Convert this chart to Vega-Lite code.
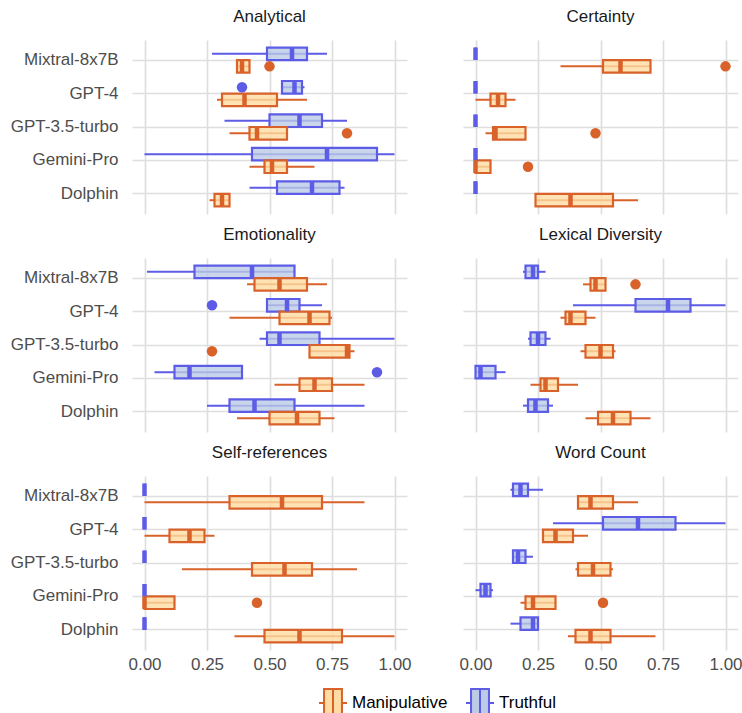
{
  "$schema": "https://vega.github.io/schema/vega-lite/v6.json",
  "background": "white",
  "padding": {"left": 10, "top": 8, "right": 0, "bottom": 0},
  "config": {
    "font": "Liberation Sans",
    "view": {"stroke": null}
  },
  "data": {
    "values": [
      {"metric": "Analytical", "model": "Mixtral-8x7B", "group": "Truthful", "lo": 0.27, "q1": 0.49, "med": 0.59, "q3": 0.65, "hi": 0.73, "out": null},
      {"metric": "Analytical", "model": "Mixtral-8x7B", "group": "Manipulative", "lo": 0.37, "q1": 0.37, "med": 0.39, "q3": 0.42, "hi": 0.42, "out": 0.50},
      {"metric": "Analytical", "model": "GPT-4", "group": "Truthful", "lo": 0.55, "q1": 0.55, "med": 0.60, "q3": 0.63, "hi": 0.64, "out": 0.39},
      {"metric": "Analytical", "model": "GPT-4", "group": "Manipulative", "lo": 0.29, "q1": 0.31, "med": 0.40, "q3": 0.53, "hi": 0.65, "out": null},
      {"metric": "Analytical", "model": "GPT-3.5-turbo", "group": "Truthful", "lo": 0.32, "q1": 0.50, "med": 0.62, "q3": 0.71, "hi": 0.81, "out": null},
      {"metric": "Analytical", "model": "GPT-3.5-turbo", "group": "Manipulative", "lo": 0.34, "q1": 0.42, "med": 0.45, "q3": 0.57, "hi": 0.57, "out": 0.81},
      {"metric": "Analytical", "model": "Gemini-Pro", "group": "Truthful", "lo": 0.0, "q1": 0.43, "med": 0.73, "q3": 0.93, "hi": 1.0, "out": null},
      {"metric": "Analytical", "model": "Gemini-Pro", "group": "Manipulative", "lo": 0.42, "q1": 0.48, "med": 0.51, "q3": 0.57, "hi": 0.68, "out": null},
      {"metric": "Analytical", "model": "Dolphin", "group": "Truthful", "lo": 0.42, "q1": 0.53, "med": 0.67, "q3": 0.78, "hi": 0.80, "out": null},
      {"metric": "Analytical", "model": "Dolphin", "group": "Manipulative", "lo": 0.26, "q1": 0.28, "med": 0.31, "q3": 0.34, "hi": 0.34, "out": null},

      {"metric": "Certainty", "model": "Mixtral-8x7B", "group": "Truthful", "lo": 0, "q1": 0, "med": 0, "q3": 0, "hi": 0, "out": null},
      {"metric": "Certainty", "model": "Mixtral-8x7B", "group": "Manipulative", "lo": 0.34, "q1": 0.51, "med": 0.58, "q3": 0.70, "hi": 0.70, "out": 1.0},
      {"metric": "Certainty", "model": "GPT-4", "group": "Truthful", "lo": 0, "q1": 0, "med": 0, "q3": 0, "hi": 0, "out": null},
      {"metric": "Certainty", "model": "GPT-4", "group": "Manipulative", "lo": 0.0, "q1": 0.06, "med": 0.09, "q3": 0.12, "hi": 0.16, "out": null},
      {"metric": "Certainty", "model": "GPT-3.5-turbo", "group": "Truthful", "lo": 0, "q1": 0, "med": 0, "q3": 0, "hi": 0, "out": null},
      {"metric": "Certainty", "model": "GPT-3.5-turbo", "group": "Manipulative", "lo": 0.04, "q1": 0.07, "med": 0.08, "q3": 0.20, "hi": 0.20, "out": 0.48},
      {"metric": "Certainty", "model": "Gemini-Pro", "group": "Truthful", "lo": 0, "q1": 0, "med": 0, "q3": 0, "hi": 0, "out": null},
      {"metric": "Certainty", "model": "Gemini-Pro", "group": "Manipulative", "lo": 0, "q1": 0, "med": 0, "q3": 0.06, "hi": 0.06, "out": 0.21},
      {"metric": "Certainty", "model": "Dolphin", "group": "Truthful", "lo": 0, "q1": 0, "med": 0, "q3": 0, "hi": 0, "out": null},
      {"metric": "Certainty", "model": "Dolphin", "group": "Manipulative", "lo": 0.24, "q1": 0.24, "med": 0.38, "q3": 0.55, "hi": 0.65, "out": null},

      {"metric": "Emotionality", "model": "Mixtral-8x7B", "group": "Truthful", "lo": 0.01, "q1": 0.20, "med": 0.43, "q3": 0.60, "hi": 0.60, "out": null},
      {"metric": "Emotionality", "model": "Mixtral-8x7B", "group": "Manipulative", "lo": 0.41, "q1": 0.44, "med": 0.54, "q3": 0.65, "hi": 0.73, "out": null},
      {"metric": "Emotionality", "model": "GPT-4", "group": "Truthful", "lo": 0.49, "q1": 0.49, "med": 0.57, "q3": 0.62, "hi": 0.71, "out": 0.27},
      {"metric": "Emotionality", "model": "GPT-4", "group": "Manipulative", "lo": 0.34, "q1": 0.54, "med": 0.66, "q3": 0.74, "hi": 0.75, "out": null},
      {"metric": "Emotionality", "model": "GPT-3.5-turbo", "group": "Truthful", "lo": 0.46, "q1": 0.49, "med": 0.54, "q3": 0.70, "hi": 1.0, "out": null},
      {"metric": "Emotionality", "model": "GPT-3.5-turbo", "group": "Manipulative", "lo": 0.66, "q1": 0.66, "med": 0.81, "q3": 0.82, "hi": 0.84, "out": 0.27},
      {"metric": "Emotionality", "model": "Gemini-Pro", "group": "Truthful", "lo": 0.04, "q1": 0.12, "med": 0.18, "q3": 0.39, "hi": 0.39, "out": 0.93},
      {"metric": "Emotionality", "model": "Gemini-Pro", "group": "Manipulative", "lo": 0.52, "q1": 0.62, "med": 0.68, "q3": 0.75, "hi": 0.88, "out": null},
      {"metric": "Emotionality", "model": "Dolphin", "group": "Truthful", "lo": 0.25, "q1": 0.34, "med": 0.44, "q3": 0.60, "hi": 0.88, "out": null},
      {"metric": "Emotionality", "model": "Dolphin", "group": "Manipulative", "lo": 0.37, "q1": 0.50, "med": 0.61, "q3": 0.70, "hi": 0.76, "out": null},

      {"metric": "Lexical Diversity", "model": "Mixtral-8x7B", "group": "Truthful", "lo": 0.19, "q1": 0.20, "med": 0.23, "q3": 0.25, "hi": 0.28, "out": null},
      {"metric": "Lexical Diversity", "model": "Mixtral-8x7B", "group": "Manipulative", "lo": 0.43, "q1": 0.46, "med": 0.48, "q3": 0.52, "hi": 0.52, "out": 0.64},
      {"metric": "Lexical Diversity", "model": "GPT-4", "group": "Truthful", "lo": 0.39, "q1": 0.64, "med": 0.77, "q3": 0.86, "hi": 1.0, "out": null},
      {"metric": "Lexical Diversity", "model": "GPT-4", "group": "Manipulative", "lo": 0.34, "q1": 0.36, "med": 0.38, "q3": 0.44, "hi": 0.48, "out": null},
      {"metric": "Lexical Diversity", "model": "GPT-3.5-turbo", "group": "Truthful", "lo": 0.21, "q1": 0.22, "med": 0.25, "q3": 0.28, "hi": 0.30, "out": null},
      {"metric": "Lexical Diversity", "model": "GPT-3.5-turbo", "group": "Manipulative", "lo": 0.42, "q1": 0.44, "med": 0.50, "q3": 0.55, "hi": 0.56, "out": null},
      {"metric": "Lexical Diversity", "model": "Gemini-Pro", "group": "Truthful", "lo": 0.0, "q1": 0.0, "med": 0.02, "q3": 0.08, "hi": 0.12, "out": null},
      {"metric": "Lexical Diversity", "model": "Gemini-Pro", "group": "Manipulative", "lo": 0.22, "q1": 0.26, "med": 0.28, "q3": 0.33, "hi": 0.41, "out": null},
      {"metric": "Lexical Diversity", "model": "Dolphin", "group": "Truthful", "lo": 0.19, "q1": 0.21, "med": 0.24, "q3": 0.29, "hi": 0.31, "out": null},
      {"metric": "Lexical Diversity", "model": "Dolphin", "group": "Manipulative", "lo": 0.44, "q1": 0.49, "med": 0.55, "q3": 0.62, "hi": 0.70, "out": null},

      {"metric": "Self-references", "model": "Mixtral-8x7B", "group": "Truthful", "lo": 0, "q1": 0, "med": 0, "q3": 0, "hi": 0, "out": null},
      {"metric": "Self-references", "model": "Mixtral-8x7B", "group": "Manipulative", "lo": 0.0, "q1": 0.34, "med": 0.55, "q3": 0.71, "hi": 0.88, "out": null},
      {"metric": "Self-references", "model": "GPT-4", "group": "Truthful", "lo": 0, "q1": 0, "med": 0, "q3": 0, "hi": 0, "out": null},
      {"metric": "Self-references", "model": "GPT-4", "group": "Manipulative", "lo": 0.0, "q1": 0.10, "med": 0.18, "q3": 0.24, "hi": 0.28, "out": null},
      {"metric": "Self-references", "model": "GPT-3.5-turbo", "group": "Truthful", "lo": 0, "q1": 0, "med": 0, "q3": 0, "hi": 0, "out": null},
      {"metric": "Self-references", "model": "GPT-3.5-turbo", "group": "Manipulative", "lo": 0.15, "q1": 0.43, "med": 0.56, "q3": 0.67, "hi": 0.85, "out": null},
      {"metric": "Self-references", "model": "Gemini-Pro", "group": "Truthful", "lo": 0, "q1": 0, "med": 0, "q3": 0, "hi": 0, "out": null},
      {"metric": "Self-references", "model": "Gemini-Pro", "group": "Manipulative", "lo": 0, "q1": 0, "med": 0, "q3": 0.12, "hi": 0.12, "out": 0.45},
      {"metric": "Self-references", "model": "Dolphin", "group": "Truthful", "lo": 0, "q1": 0, "med": 0, "q3": 0, "hi": 0, "out": null},
      {"metric": "Self-references", "model": "Dolphin", "group": "Manipulative", "lo": 0.36, "q1": 0.48, "med": 0.62, "q3": 0.79, "hi": 1.0, "out": null},

      {"metric": "Word Count", "model": "Mixtral-8x7B", "group": "Truthful", "lo": 0.14, "q1": 0.15, "med": 0.18, "q3": 0.21, "hi": 0.27, "out": null},
      {"metric": "Word Count", "model": "Mixtral-8x7B", "group": "Manipulative", "lo": 0.41, "q1": 0.41, "med": 0.46, "q3": 0.55, "hi": 0.65, "out": null},
      {"metric": "Word Count", "model": "GPT-4", "group": "Truthful", "lo": 0.31, "q1": 0.51, "med": 0.65, "q3": 0.80, "hi": 1.0, "out": null},
      {"metric": "Word Count", "model": "GPT-4", "group": "Manipulative", "lo": 0.27, "q1": 0.27, "med": 0.32, "q3": 0.39, "hi": 0.45, "out": null},
      {"metric": "Word Count", "model": "GPT-3.5-turbo", "group": "Truthful", "lo": 0.15, "q1": 0.15, "med": 0.17, "q3": 0.20, "hi": 0.23, "out": null},
      {"metric": "Word Count", "model": "GPT-3.5-turbo", "group": "Manipulative", "lo": 0.40, "q1": 0.41, "med": 0.47, "q3": 0.54, "hi": 0.55, "out": null},
      {"metric": "Word Count", "model": "Gemini-Pro", "group": "Truthful", "lo": 0.0, "q1": 0.02, "med": 0.04, "q3": 0.06, "hi": 0.07, "out": null},
      {"metric": "Word Count", "model": "Gemini-Pro", "group": "Manipulative", "lo": 0.18, "q1": 0.20, "med": 0.23, "q3": 0.32, "hi": 0.32, "out": 0.51},
      {"metric": "Word Count", "model": "Dolphin", "group": "Truthful", "lo": 0.14, "q1": 0.18, "med": 0.23, "q3": 0.25, "hi": 0.25, "out": null},
      {"metric": "Word Count", "model": "Dolphin", "group": "Manipulative", "lo": 0.37, "q1": 0.40, "med": 0.46, "q3": 0.54, "hi": 0.72, "out": null}
    ]
  },
  "facet": {
    "field": "metric",
    "type": "nominal",
    "sort": ["Analytical", "Certainty", "Emotionality", "Lexical Diversity", "Self-references", "Word Count"],
    "header": {"title": null, "labelFontSize": 17, "labelColor": "#1a1a1a", "labelPadding": 14, "labelFont": "Liberation Sans"}
  },
  "columns": 2,
  "spacing": {"row": 12, "column": 56},
  "resolve": {"scale": {"x": "shared", "y": "shared"}},
  "spec": {
    "width": 275,
    "height": 174,
    "encoding": {
      "y": {
        "field": "model",
        "type": "nominal",
        "sort": ["Mixtral-8x7B", "GPT-4", "GPT-3.5-turbo", "Gemini-Pro", "Dolphin"],
        "scale": {"paddingInner": 0, "paddingOuter": 0.1},
        "axis": {
          "title": null, "domain": false, "ticks": false, "grid": true, "bandPosition": 0.5,
          "labelFontSize": 17, "labelColor": "#4d4d4d", "labelPadding": 14,
          "gridColor": "#dedede", "gridWidth": 1.7
        }
      },
      "yOffset": {
        "field": "group",
        "type": "nominal",
        "sort": ["Truthful", "Manipulative"],
        "scale": {"domain": ["Truthful", "Manipulative"], "paddingInner": 0, "paddingOuter": 0.3333}
      }
    },
    "layer": [
      {
        "mark": {"type": "rule", "strokeWidth": 2},
        "encoding": {
          "x": {
            "field": "lo", "type": "quantitative",
            "scale": {"domain": [-0.05, 1.05], "nice": false, "zero": false},
            "axis": {
              "title": null, "values": [0, 0.125, 0.25, 0.375, 0.5, 0.625, 0.75, 0.875, 1],
              "labelExpr": "(datum.value*4)%1==0 ? format(datum.value,'.2f') : ''",
              "labelOverlap": false, "labelFlush": false,
              "domain": false, "ticks": false, "grid": true,
              "gridColor": "#dedede", "gridWidth": 1.7,
              "labelFontSize": 17, "labelColor": "#4d4d4d", "labelPadding": 6
            }
          },
          "x2": {"field": "hi"},
          "stroke": {
            "field": "group", "type": "nominal",
            "scale": {"domain": ["Manipulative", "Truthful"], "range": ["#d9622b", "#5c5ce6"]},
            "legend": {
              "title": null, "orient": "none", "direction": "horizontal",
              "legendX": 186, "legendY": 648,
              "symbolType": "M-1,0H-0.64M0.64,0H1M-0.64,-1H0.64V1H-0.64ZM0,-1V1",
              "symbolSize": 784, "symbolStrokeWidth": 2,
              "labelFontSize": 17, "labelColor": "#000000", "labelOffset": 4, "columnPadding": 14
            }
          }
        }
      },
      {
        "mark": {"type": "bar", "strokeWidth": 2.2, "fillOpacity": 0.8},
        "encoding": {
          "x": {"field": "q1", "type": "quantitative"},
          "x2": {"field": "q3"},
          "stroke": {"field": "group", "type": "nominal"},
          "fill": {
            "field": "group", "type": "nominal",
            "scale": {"domain": ["Manipulative", "Truthful"], "range": ["#ffdca3", "#bccbe6"]},
            "legend": {
              "title": null, "orient": "none", "direction": "horizontal",
              "legendX": 186, "legendY": 648,
              "symbolType": "M-1,0H-0.64M0.64,0H1M-0.64,-1H0.64V1H-0.64ZM0,-1V1",
              "symbolSize": 784, "symbolStrokeWidth": 2,
              "labelFontSize": 17, "labelColor": "#000000", "labelOffset": 4, "columnPadding": 14
            }
          }
        }
      },
      {
        "mark": {"type": "bar", "strokeWidth": 4.5, "fillOpacity": 0},
        "encoding": {
          "x": {"field": "med", "type": "quantitative"},
          "x2": {"field": "med"},
          "stroke": {"field": "group", "type": "nominal"}
        }
      },
      {
        "transform": [{"filter": "datum.out != null"}],
        "mark": {"type": "point", "filled": true, "opacity": 1, "size": 110},
        "encoding": {
          "x": {"field": "out", "type": "quantitative"},
          "color": {
            "field": "group", "type": "nominal",
            "scale": {"domain": ["Manipulative", "Truthful"], "range": ["#d9622b", "#5c5ce6"]},
            "legend": null
          }
        }
      }
    ]
  }
}
